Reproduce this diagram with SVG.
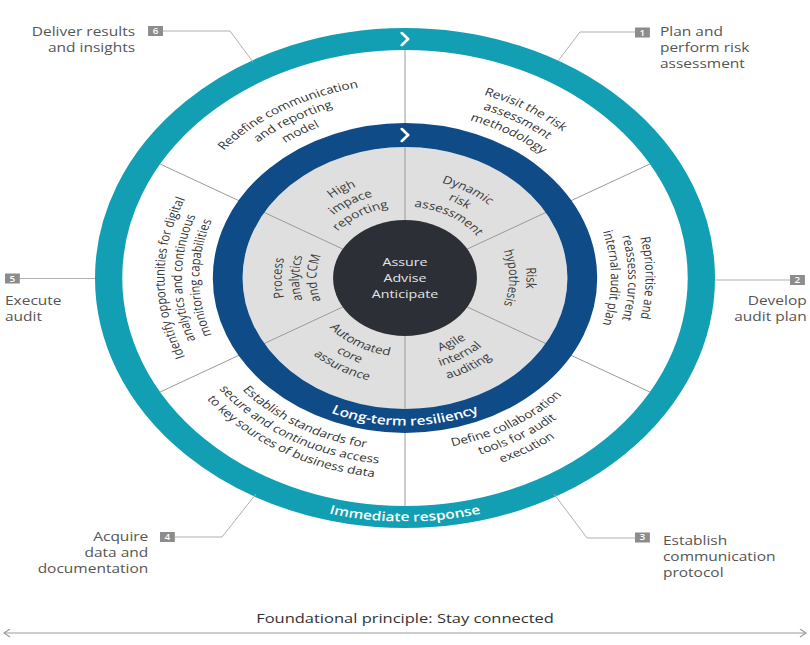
<svg xmlns="http://www.w3.org/2000/svg" width="810" height="645" viewBox="0 0 810 645">
<style>
text{font-family:"Open Sans","Liberation Sans",Arial,sans-serif}
.lbl{font-size:12.5px;fill:#555}
.badge rect{fill:#8c8c8c}
.badge text{font-size:8px;fill:#fff;text-anchor:middle;font-weight:600}
.lead{fill:none;stroke:#b0b0b0;stroke-width:1;vector-effect:non-scaling-stroke}
.spoke{stroke:#9a9a9a;stroke-width:1;vector-effect:non-scaling-stroke}
.ot{font-size:11px;fill:#333;text-anchor:middle}
.it{font-size:11px;fill:#3a3a3a;text-anchor:middle}
.band{font-size:12.5px;fill:#fff;font-weight:600;text-anchor:middle}
.ctr{font-size:11.5px;fill:#e4e4e4;text-anchor:middle}
.chev{fill:none;stroke:#fff;stroke-width:2.5;stroke-linecap:round;stroke-linejoin:round}
.foot{font-size:13.3px;fill:#333;text-anchor:middle}
</style>
<defs>
<path id="a194" d="M-182.3,-66.35 A194,194 0 0 1 182.3,-66.35"/>
<path id="a180" d="M-169.14,-61.56 A180,180 0 0 1 169.14,-61.56"/>
<path id="a166" d="M-155.99,-56.78 A166,166 0 0 1 155.99,-56.78"/>
<path id="a99" d="M-93.5,-34.03 A99.5,99.5 0 0 1 93.5,-34.03"/>
<path id="a85" d="M-80.34,-29.24 A85.5,85.5 0 0 1 80.34,-29.24"/>
<path id="a71" d="M-67.19,-24.45 A71.5,71.5 0 0 1 67.19,-24.45"/>
<path id="a98" d="M-92.09,-33.52 A98,98 0 0 1 92.09,-33.52"/>
<path id="a84" d="M-78.93,-28.73 A84,84 0 0 1 78.93,-28.73"/>
<path id="b172" d="M-162.1,59 A172.5,172.5 0 0 0 162.1,59"/>
<path id="b186" d="M-175.25,63.79 A186.5,186.5 0 0 0 175.25,63.79"/>
<path id="b200" d="M-188.41,68.57 A200.5,200.5 0 0 0 188.41,68.57"/>
<path id="b78" d="M-73.77,26.85 A78.5,78.5 0 0 0 73.77,26.85"/>
<path id="b92" d="M-86.92,31.64 A92.5,92.5 0 0 0 86.92,31.64"/>
<path id="b106" d="M-100.08,36.42 A106.5,106.5 0 0 0 100.08,36.42"/>
<path id="b147" d="M-138.6,50.45 A147.5,147.5 0 0 0 138.6,50.45"/>
<path id="b243" d="M-228.81,83.28 A243.5,243.5 0 0 0 228.81,83.28"/>
<marker id="ah" viewBox="0 0 10 10" refX="9" refY="5" markerWidth="7" markerHeight="9" orient="auto-start-reverse" markerUnits="userSpaceOnUse" preserveAspectRatio="none">
<path d="M2,0.5 L9,5 L2,9.5" fill="none" stroke="#999" stroke-width="1.2"/>
</marker>
</defs>
<rect width="810" height="645" fill="#fff"/>
<g transform="translate(405,278) scale(1.24,1)">
<g id="wheel">
<circle id="ring-immediate" r="239" fill="#fff" stroke="#129fb3" stroke-width="22"/>
<circle id="inner-disk" r="131" fill="#dfdfdf"/>
<g id="dividers">
<line class="spoke" x1="0" y1="0" x2="0" y2="-228"/>
<line class="spoke" x1="0" y1="0" x2="0" y2="228"/>
<line class="spoke" x1="0" y1="0" x2="197.5" y2="-114"/>
<line class="spoke" x1="0" y1="0" x2="197.5" y2="114"/>
<line class="spoke" x1="0" y1="0" x2="-197.5" y2="-114"/>
<line class="spoke" x1="0" y1="0" x2="-197.5" y2="114"/>
</g>
<circle id="ring-longterm" r="143" fill="none" stroke="#0e4b87" stroke-width="24"/>
<path class="chev" d="M-2.5,-245 L2.5,-239 L-2.5,-233"/>
<path class="chev" d="M-2.5,-149 L2.5,-143 L-2.5,-137"/>
<g id="core">
<circle r="58" fill="#2c3036"/>
<text class="ctr" x="0" y="-12">Assure</text>
<text class="ctr" x="0" y="4">Advise</text>
<text class="ctr" x="0" y="20">Anticipate</text>
</g>
<g id="band-labels">
<text class="band"><textPath href="#b147" startOffset="50%">Long-term resiliency</textPath></text>
<text class="band"><textPath href="#b243" startOffset="50%">Immediate response</textPath></text>
</g>
<g id="outer-redefine" transform="rotate(-30)">
<text class="ot"><textPath href="#a194" startOffset="50%">Redefine communication</textPath></text>
<text class="ot"><textPath href="#a180" startOffset="50%">and reporting</textPath></text>
<text class="ot"><textPath href="#a166" startOffset="50%">model</textPath></text>
</g>
<g id="outer-revisit" transform="rotate(30)">
<text class="ot"><textPath href="#a194" startOffset="50%">Revisit the risk</textPath></text>
<text class="ot"><textPath href="#a180" startOffset="50%">assessment</textPath></text>
<text class="ot"><textPath href="#a166" startOffset="50%">methodology</textPath></text>
</g>
<g id="outer-reprioritise" transform="rotate(90)">
<text class="ot"><textPath href="#a194" startOffset="50%">Reprioritise and</textPath></text>
<text class="ot"><textPath href="#a180" startOffset="50%">reassess current</textPath></text>
<text class="ot"><textPath href="#a166" startOffset="50%">internal audit plan</textPath></text>
</g>
<g id="outer-identify" transform="rotate(-90)">
<text class="ot"><textPath href="#a194" startOffset="50%">Identify opportunities for digital</textPath></text>
<text class="ot"><textPath href="#a180" startOffset="50%">analytics and continuous</textPath></text>
<text class="ot"><textPath href="#a166" startOffset="50%">monitoring capabilities</textPath></text>
</g>
<g id="outer-establish" transform="rotate(30)">
<text class="ot"><textPath href="#b172" startOffset="50%">Establish standards for</textPath></text>
<text class="ot"><textPath href="#b186" startOffset="50%">secure and continuous access</textPath></text>
<text class="ot"><textPath href="#b200" startOffset="50%">to key sources of business data</textPath></text>
</g>
<g id="outer-define" transform="rotate(-30)">
<text class="ot"><textPath href="#b172" startOffset="50%">Define collaboration</textPath></text>
<text class="ot"><textPath href="#b186" startOffset="50%">tools for audit</textPath></text>
<text class="ot"><textPath href="#b200" startOffset="50%">execution</textPath></text>
</g>
<g id="inner-reporting" transform="rotate(-30)">
<text class="it"><textPath href="#a99" startOffset="50%">High</textPath></text>
<text class="it"><textPath href="#a85" startOffset="50%">impace</textPath></text>
<text class="it"><textPath href="#a71" startOffset="50%">reporting</textPath></text>
</g>
<g id="inner-dynamic" transform="rotate(30)">
<text class="it"><textPath href="#a99" startOffset="50%">Dynamic</textPath></text>
<text class="it"><textPath href="#a85" startOffset="50%">risk</textPath></text>
<text class="it"><textPath href="#a71" startOffset="50%">assessment</textPath></text>
</g>
<g id="inner-hypothesis" transform="rotate(90)">
<text class="it"><textPath href="#a98" startOffset="50%">Risk</textPath></text>
<text class="it"><textPath href="#a84" startOffset="50%">hypothesis</textPath></text>
</g>
<g id="inner-process" transform="rotate(-90)">
<text class="it"><textPath href="#a99" startOffset="50%">Process</textPath></text>
<text class="it"><textPath href="#a85" startOffset="50%">analytics</textPath></text>
<text class="it"><textPath href="#a71" startOffset="50%">and CCM</textPath></text>
</g>
<g id="inner-automated" transform="rotate(30)">
<text class="it"><textPath href="#b78" startOffset="50%">Automated</textPath></text>
<text class="it"><textPath href="#b92" startOffset="50%">core</textPath></text>
<text class="it"><textPath href="#b106" startOffset="50%">assurance</textPath></text>
</g>
<g id="inner-agile" transform="rotate(-30)">
<text class="it"><textPath href="#b78" startOffset="50%">Agile</textPath></text>
<text class="it"><textPath href="#b92" startOffset="50%">internal</textPath></text>
<text class="it"><textPath href="#b106" startOffset="50%">auditing</textPath></text>
</g>
</g>
<g id="connectors">
<polyline class="lead" points="123.4,-217 141.1,-246 185.5,-246"/>
<polyline class="lead" points="250,2 310.5,2"/>
<polyline class="lead" points="120.2,216 146.8,260 185.5,260"/>
<polyline class="lead" points="-120.2,216 -147.6,259 -185.5,259"/>
<polyline class="lead" points="-250,0.5 -310.5,0.5"/>
<polyline class="lead" points="-122.6,-216 -141.1,-247 -195.2,-247"/>
</g>
<g id="step-1">
<g class="badge"><rect x="185.5" y="-250.5" width="12" height="10"/><text x="191.5" y="-242.5">1</text></g>
<text class="lbl" x="205.6" y="-242">Plan and<tspan x="205.6" y="-226">perform risk</tspan><tspan x="205.6" y="-210">assessment</tspan></text>
</g>
<g id="step-2">
<g class="badge"><rect x="310.5" y="-3" width="12" height="10"/><text x="316.5" y="5">2</text></g>
<text class="lbl" x="324" y="27" text-anchor="end">Develop<tspan x="324" y="43">audit plan</tspan></text>
</g>
<g id="step-3">
<g class="badge"><rect x="185.5" y="254.5" width="12" height="10"/><text x="191.5" y="262.5">3</text></g>
<text class="lbl" x="208" y="267">Establish<tspan x="208" y="283">communication</tspan><tspan x="208" y="299">protocol</tspan></text>
</g>
<g id="step-4">
<g class="badge"><rect x="-197.6" y="254" width="12" height="10"/><text x="-191.6" y="262">4</text></g>
<text class="lbl" x="-207" y="263" text-anchor="end">Acquire<tspan x="-207" y="279">data and</tspan><tspan x="-207" y="295">documentation</tspan></text>
</g>
<g id="step-5">
<g class="badge"><rect x="-322.6" y="-4.5" width="12" height="10"/><text x="-316.6" y="3.5">5</text></g>
<text class="lbl" x="-322.6" y="27">Execute<tspan x="-322.6" y="43">audit</tspan></text>
</g>
<g id="step-6">
<g class="badge"><rect x="-207.2" y="-252" width="12" height="10"/><text x="-201.2" y="-244">6</text></g>
<text class="lbl" x="-217.7" y="-242" text-anchor="end">Deliver results<tspan x="-217.7" y="-226">and insights</tspan></text>
</g>
<g id="foundation">
<text class="foot" x="0" y="345">Foundational principle: Stay connected</text>
<line x1="-323.4" y1="355" x2="323.4" y2="355" stroke="#999" stroke-width="1" vector-effect="non-scaling-stroke" marker-start="url(#ah)" marker-end="url(#ah)"/>
</g>
</g>
</svg>
